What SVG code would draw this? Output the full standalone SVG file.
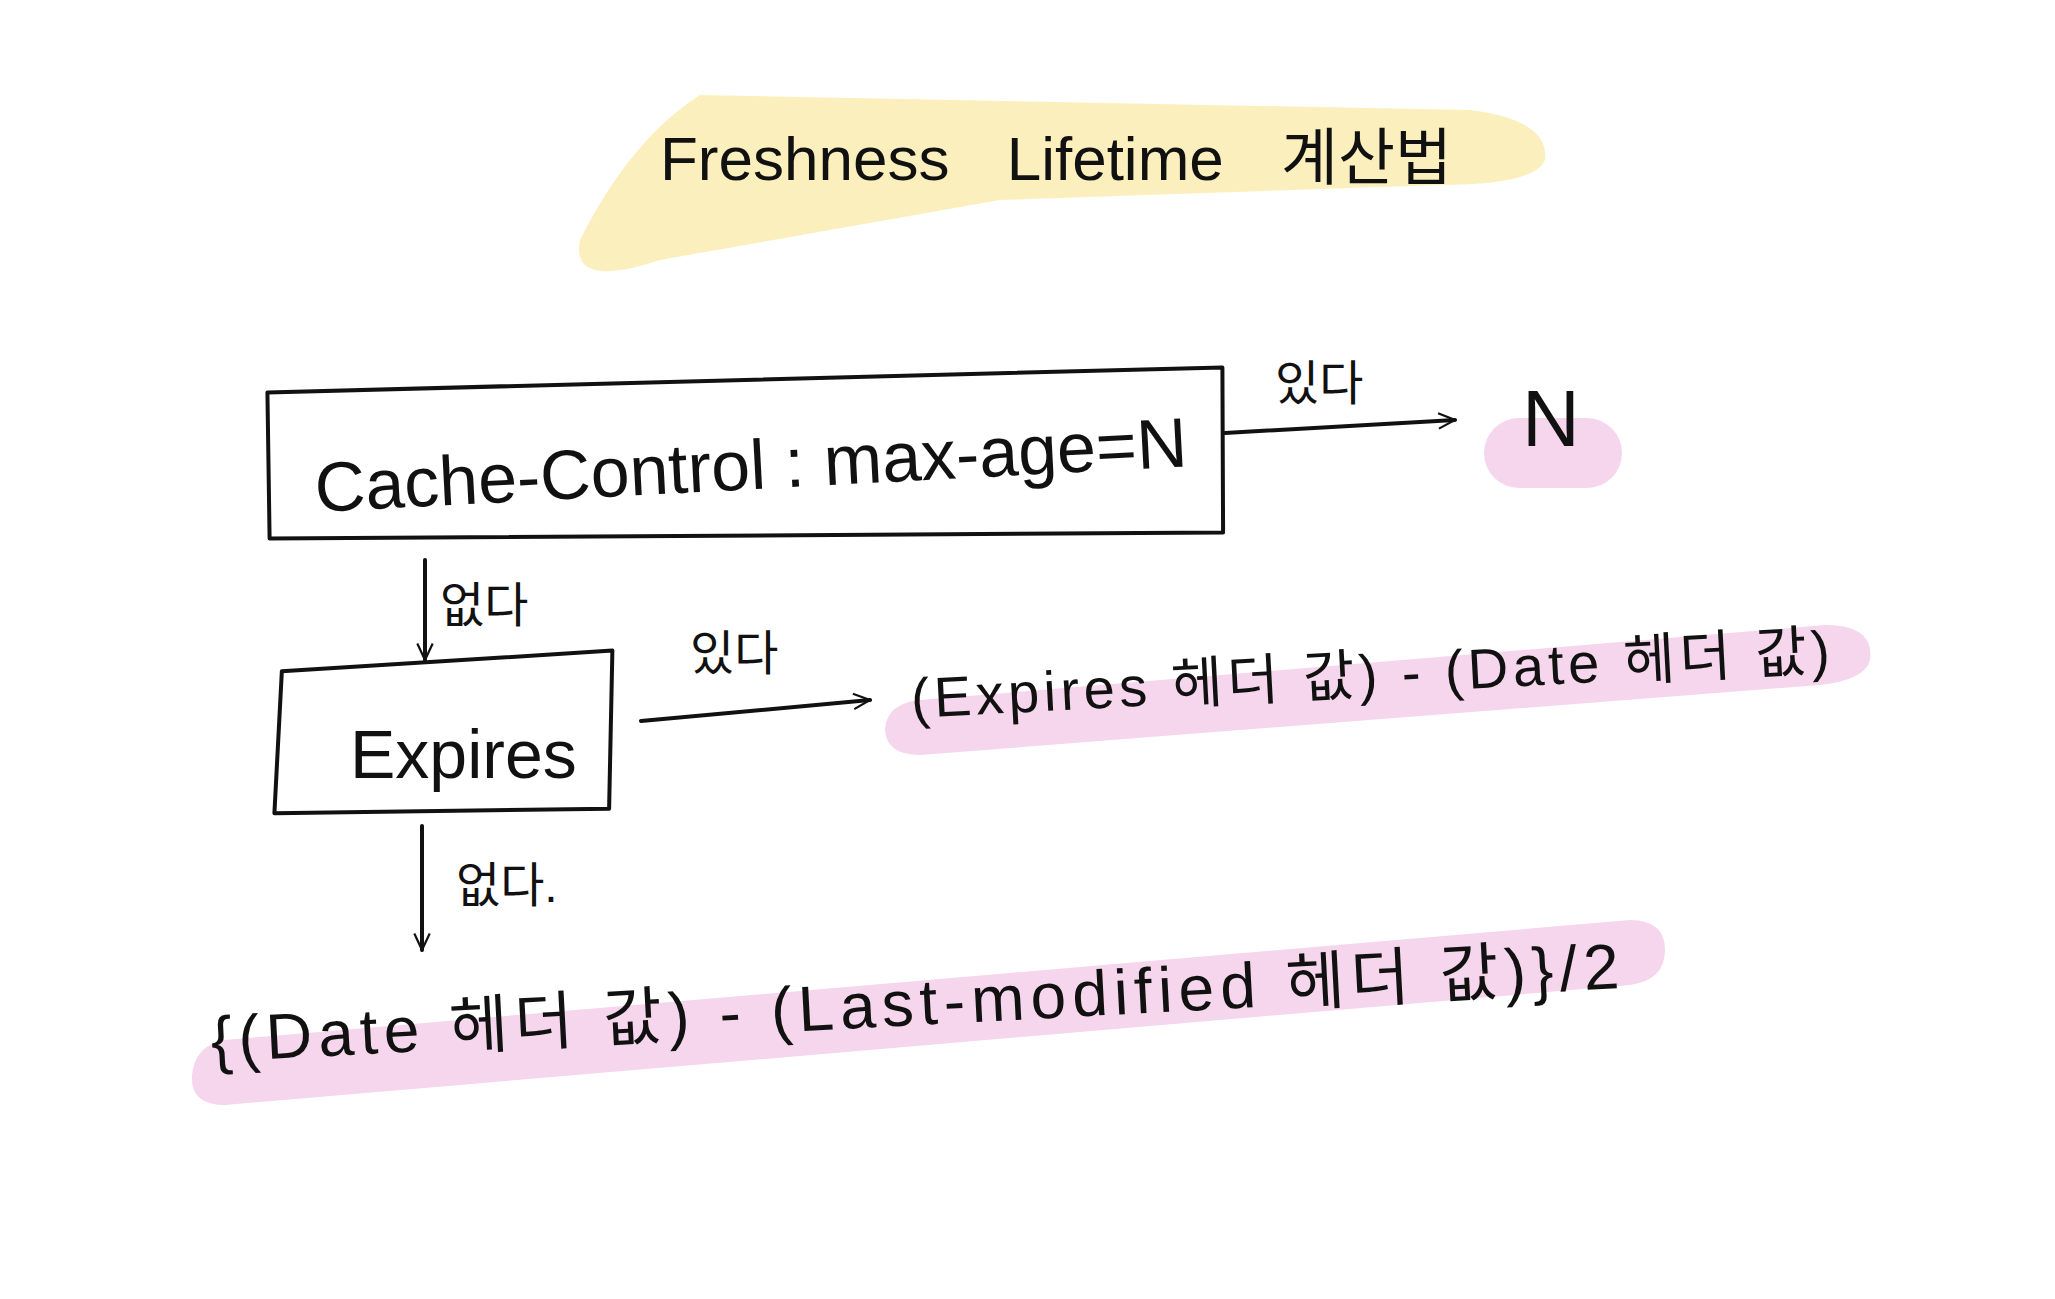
<svg xmlns="http://www.w3.org/2000/svg" width="2055" height="1299" viewBox="0 0 2055 1299">
<style>
.t{font-family:"Liberation Sans","Noto Sans CJK KR",sans-serif;fill:#111}
.ln{stroke:#111;stroke-width:4;fill:none;stroke-linecap:round;stroke-linejoin:round}
.hl{fill:#f6d6ec}
</style>
<defs>
<marker id="a" viewBox="0 0 20 20" refX="18" refY="10" markerWidth="22" markerHeight="22" markerUnits="userSpaceOnUse" orient="auto">
<path d="M3 3 L18 10 L3 17" fill="none" stroke="#111" stroke-width="2"/>
</marker>
</defs>
<rect width="2055" height="1299" fill="#fff"/>
<g id="title">
<path d="M580 240 Q630 140 700 95 L1470 110 Q1550 120 1545 160 Q1535 185 1440 185 L1000 200 L660 260 Q570 290 580 240Z" fill="#fbf0bd"/>
<text class="t" x="660" y="180" font-size="62" word-spacing="40">Freshness Lifetime 계산법</text>
</g>
<g id="cache-control">
<path class="ln" d="M266 405 L1220 355 L1225 520 L272 551 Z" transform="rotate(1.5 745 453)"/>
<text class="t" x="316" y="512" font-size="70" transform="rotate(-3 316 512)">Cache-Control : max-age=N</text>
</g>
<g id="n">
<rect class="hl" x="1484" y="418" width="138" height="70" rx="35"/>
<text class="t" x="1522" y="446" font-size="80">N</text>
</g>
<g id="expires">
<path class="ln" d="M279 680 L608 642 L613 800 L279 822 Z" transform="rotate(3 446 730)"/>
<text class="t" x="350" y="778" font-size="68">Expires</text>
</g>
<g id="expires-result">
<path class="hl" d="M920 700 L1825 625 Q1875 625 1870 660 Q1865 680 1820 685 L920 755 Q885 755 885 728 Q888 703 920 700Z"/>
<text class="t" x="912" y="718" font-size="56" textLength="920" transform="rotate(-3 912 718)">(Expires 헤더 값) - (Date 헤더 값)</text>
</g>
<g id="fallback">
<path class="hl" d="M225 1040 L1630 920 Q1665 920 1665 950 Q1665 980 1630 985 L225 1105 Q190 1105 192 1075 Q195 1045 225 1040Z"/>
<text class="t" x="212" y="1062" font-size="64" textLength="1410" transform="rotate(-3 212 1062)">{(Date 헤더 값) - (Last-modified 헤더 값)}/2</text>
</g>
<g id="connectors">
<path class="ln" d="M1225 433 L1455 420" marker-end="url(#a)"/>
<text class="t" x="1275" y="400" font-size="48">있다</text>
<path class="ln" d="M425 560 L425 660" marker-end="url(#a)"/>
<text class="t" x="440" y="622" font-size="48">없다</text>
<path class="ln" d="M641 721 L870 700" marker-end="url(#a)"/>
<text class="t" x="690" y="670" font-size="48">있다</text>
<path class="ln" d="M422 826 L422 950" marker-end="url(#a)"/>
<text class="t" x="456" y="902" font-size="48">없다.</text>
</g>
</svg>
